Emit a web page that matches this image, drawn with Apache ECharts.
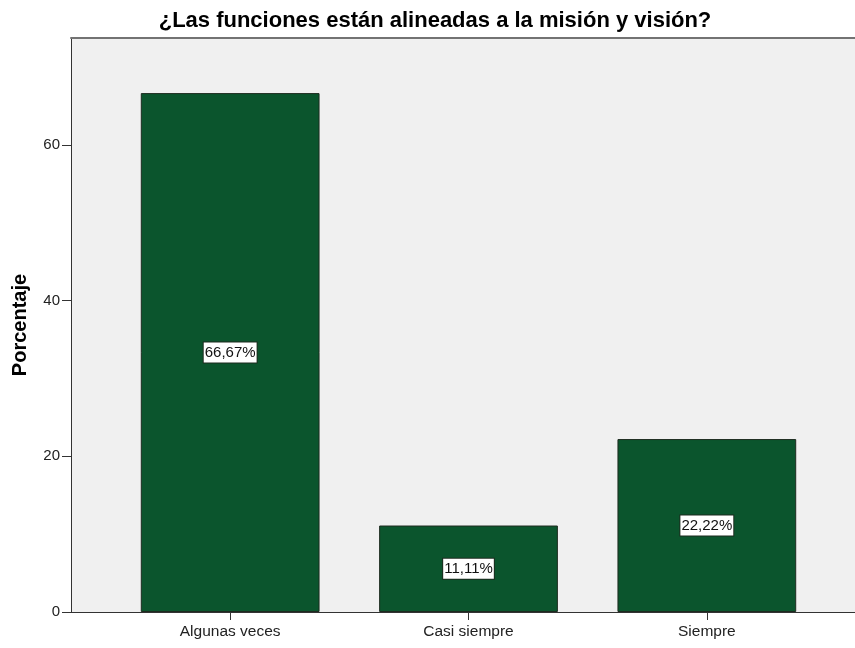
<!DOCTYPE html>
<html>
<head>
<meta charset="utf-8">
<script src="https://cdn.jsdelivr.net/npm/echarts@6/dist/echarts.min.js"></script>
<style>
  html, body { margin: 0; padding: 0; background: #fff; }
  #chart { width: 855px; height: 648px; }
</style>
</head>
<body>
<div id="chart"></div>
<script>
// Response categories and their percentages
const categories = ['Algunas veces', 'Casi siempre', 'Siempre'];
const percentages = [66.67, 11.11, 22.22];
const yTicks = [0, 20, 40, 60];

const Y_MAX = 73.75;
const FONT = '"Liberation Sans", Arial, sans-serif';

const chart = echarts.init(document.getElementById('chart'));

chart.setOption({
  animation: false,
  title: {
    text: '¿Las funciones están alineadas a la misión y visión?',
    left: 430,
    textAlign: 'center',
    top: 5,
    textStyle: { fontFamily: FONT, fontSize: 22, fontWeight: 'bold', color: '#000' }
  },
  grid: [
    // frame with grey fill and the value axis
    { left: 71, right: 0, top: 38, bottom: 36, show: true, backgroundColor: '#f0f0f0', borderWidth: 0 },
    // bars
    { left: 111, right: 29, top: 38, bottom: 36 }
  ],
  xAxis: [
    {
      gridIndex: 0, type: 'value', min: 0, max: 1, position: 'top',
      axisLine: { show: true, onZero: false, lineStyle: { color: '#737373', width: 2 } },
      axisTick: { show: false }, axisLabel: { show: false }, splitLine: { show: false }
    },
    {
      gridIndex: 1, type: 'category', data: categories,
      axisLine: { show: false },
      axisTick: { show: true, alignWithLabel: true, length: 8, lineStyle: { color: '#333' } },
      axisLabel: { fontFamily: FONT, fontSize: 15.5, color: '#222', margin: 12 }
    },
    {
      gridIndex: 0, type: 'value', min: 0, max: 1, position: 'bottom',
      axisLine: { show: true, onZero: false, lineStyle: { color: '#333', width: 1 } },
      axisTick: { show: false }, axisLabel: { show: false }, splitLine: { show: false }
    }
  ],
  yAxis: [
    {
      gridIndex: 0, type: 'value', min: 0, max: Y_MAX, interval: 20,
      name: 'Porcentaje', nameLocation: 'middle', nameGap: 41, nameRotate: 90,
      nameTextStyle: { fontFamily: FONT, fontSize: 20, fontWeight: 'bold', color: '#000' },
      axisLine: { show: true, onZero: false, lineStyle: { color: '#333' } },
      axisTick: { show: true, length: 9, customValues: yTicks, lineStyle: { color: '#333' } },
      axisLabel: {
        fontFamily: FONT, fontSize: 15, color: '#222', margin: 11,
        customValues: yTicks
      },
      splitLine: { show: false }
    },
    {
      gridIndex: 1, type: 'value', min: 0, max: Y_MAX,
      show: false, splitLine: { show: false }
    }
  ],
  series: [{
    type: 'bar',
    xAxisIndex: 1,
    yAxisIndex: 1,
    data: percentages,
    barWidth: '75%',
    itemStyle: { color: '#0b552d', borderColor: '#1d2b1f', borderWidth: 1 },
    label: {
      show: true,
      position: 'inside',
      formatter: p => p.value.toFixed(2).replace('.', ',') + '%',
      fontFamily: FONT, fontSize: 15, color: '#111',
      backgroundColor: '#fff', borderColor: '#1d2b1f', borderWidth: 1,
      padding: [3, 1, 2, 1]
    }
  }]
});
</script>
</body>
</html>
